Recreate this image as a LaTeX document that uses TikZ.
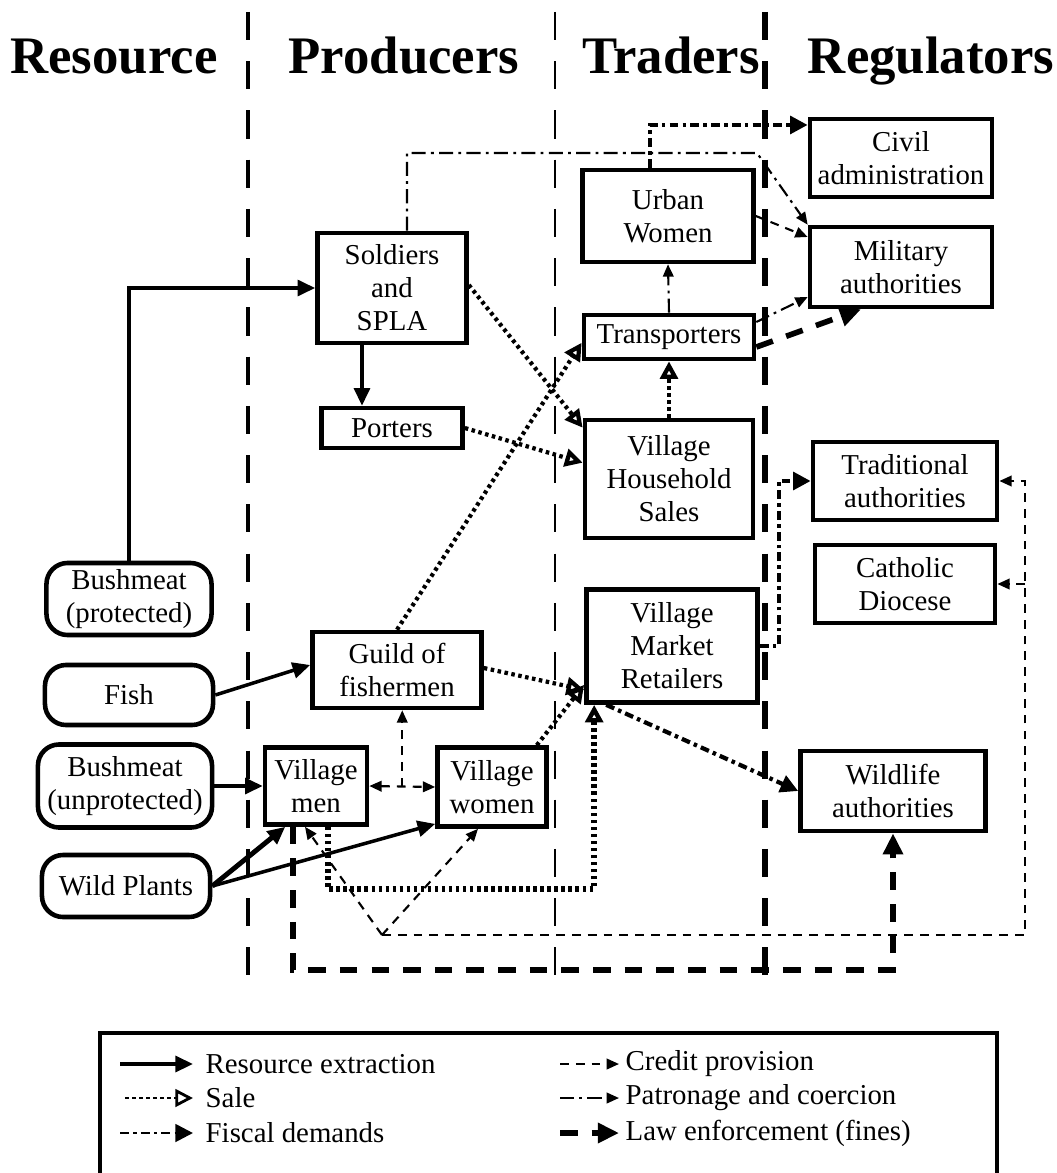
\documentclass[tikz,border=0pt]{standalone}
\usepackage{fontspec}
\setmainfont{Liberation Serif}
\usetikzlibrary{arrows.meta, positioning, calc}
\newcommand\actorfont{\fontsize{8.2}{9.4}\selectfont}

\begin{document}
\begin{tikzpicture}[x=0.01cm, y=-0.01cm,
    actor/.style={draw, fill=white, line width=1.3pt, align=center, inner sep=1pt, font=\actorfont},
    source/.style={actor, rounded corners=6pt},
    head/.style={anchor=base, font=\fontsize{15}{18}\selectfont\bfseries},
    legtext/.style={anchor=west, inner sep=0pt, font=\actorfont},
    divider/.style={line width=1.1pt, dash pattern=on 8pt off 6pt},
    extract/.style={line width=1pt, -{Triangle[length=5pt,width=4.5pt]}},
    sale/.style={line width=1.2pt, dash pattern=on 1pt off 1pt, -{Triangle[open,length=5pt,width=5pt]}},
    fiscal/.style={line width=1.2pt, dash pattern=on 2.5pt off 1.2pt on 1pt off 1.2pt, -{Triangle[length=5pt,width=5pt]}},
    credit/.style={line width=0.6pt, dash pattern=on 2.5pt off 2pt, -{Triangle[length=3.5pt,width=3pt]}},
    patron/.style={line width=0.6pt, dash pattern=on 4pt off 1.5pt on 0.8pt off 1.5pt, -{Triangle[length=3.5pt,width=3pt]}},
    lawenf/.style={line width=1.6pt, dash pattern=on 5pt off 4pt, -{Triangle[length=6pt,width=5.5pt]}}]
  \useasboundingbox (0,0) rectangle (1056,1173);

  % Column headings
  \node[head] (hres) at (114,74) {Resource};
  \node[head] (hprod) at (404,74) {Producers};
  \node[head] (htrad) at (671,74) {Traders};
  \node[head] (hreg) at (931,74) {Regulators};

  % Column dividers
  \draw[divider] (248,12) -- (248,975);
  \draw[divider, line width=0.8pt] (555,12) -- (555,975);
  \draw[divider, line width=1.5pt] (765,12) -- (765,975);

  % Resources
  \node[source, minimum width=1.65cm, minimum height=0.72cm] (bmp) at (129,599) {Bushmeat\\(protected)};
  \node[source, minimum width=1.68cm, minimum height=0.60cm] (fish) at (129,695) {Fish};
  \node[source, minimum width=1.74cm, minimum height=0.83cm] (bmu) at (125,786) {Bushmeat\\(unprotected)};
  \node[source, minimum width=1.68cm, minimum height=0.62cm] (wild) at (126,886) {Wild Plants};

  % Producers
  \node[actor, minimum width=1.49cm, minimum height=1.10cm] (soldiers) at (392,288) {Soldiers\\and\\SPLA};
  \node[actor, minimum width=1.41cm, minimum height=0.40cm] (porters) at (392,428) {Porters};
  \node[actor, minimum width=1.69cm, minimum height=0.76cm] (guild) at (397,670) {Guild of\\fishermen};
  \node[actor, minimum width=1.02cm, minimum height=0.77cm] (vmen) at (316,786) {Village\\men};
  \node[actor, minimum width=1.09cm, minimum height=0.79cm] (vwomen) at (492,787) {Village\\women};

  % Traders
  \node[actor, minimum width=1.71cm, minimum height=0.92cm] (urban) at (668,216) {Urban\\Women};
  \node[actor, minimum width=1.70cm, minimum height=0.44cm] (transp) at (669,337) {Transporters};
  \node[actor, minimum width=1.68cm, minimum height=1.18cm] (vhs) at (669,479) {Village\\Household\\Sales};
  \node[actor, minimum width=1.71cm, minimum height=1.13cm] (vmr) at (672,646) {Village\\Market\\Retailers};

  % Regulators
  \node[actor, minimum width=1.82cm, minimum height=0.78cm] (civil) at (901,158) {Civil\\administration};
  \node[actor, minimum width=1.82cm, minimum height=0.80cm] (military) at (901,267) {Military\\authorities};
  \node[actor, minimum width=1.84cm, minimum height=0.78cm] (trad) at (905,481) {Traditional\\authorities};
  \node[actor, minimum width=1.80cm, minimum height=0.78cm] (cath) at (905,584) {Catholic\\Diocese};
  \node[actor, minimum width=1.85cm, minimum height=0.80cm] (wildlife) at (893,791) {Wildlife\\authorities};

  % Free corners
  \coordinate (pbend) at (757,153);
  \coordinate (cfork) at (382,935);
  \coordinate (cright) at (1025,935);
  \coordinate (cmid) at ($(vmen.east)!0.5!(vwomen.west)$);

  % Resource extraction
  \draw[extract] (bmp.north) |- (soldiers.west);
  \draw[extract] (fish.east) -- ([yshift=0.05cm]guild.west);
  \draw[extract] (bmu.east) -- (vmen.west);
  \draw[extract, line width=1.4pt] (wild.east) -- (vmen.233);
  \draw[extract] (wild.east) -- (vwomen.213);
  \draw[extract] ([xshift=-0.3cm]soldiers.south) -- ([xshift=-0.3cm]porters.north);

  % Sale
  \draw[sale] ([yshift=0.03cm]soldiers.east) -- ([yshift=-0.1cm]vhs.north west);
  \draw[sale] (porters.east) -- ([yshift=-0.45cm]vhs.north west);
  \draw[sale] (guild.north) -- ([yshift=-0.3cm]transp.north west);
  \draw[sale] ([yshift=0.02cm]guild.east) -- ([yshift=0.15cm]vmr.south west);
  \draw[sale] ([xshift=-0.12cm]vwomen.north east) -- ([yshift=0.2cm]vmr.south west);
  \draw[sale] (vhs.north) -- (transp.south);
  \draw[sale, line width=1.6pt] ([xshift=0.12cm]vmen.south) -- ++(0,62) -| ([xshift=0.1cm]vmr.south west);

  % Fiscal demands
  \draw[fiscal] ([xshift=-0.18cm]urban.north) |- ([yshift=0.33cm]civil.west);
  \draw[fiscal] (vmr.east) -- ++(19,0) |- (trad.west);
  \draw[fiscal] ([xshift=0.22cm]vmr.south west) -- (wildlife.west);

  % Patronage and coercion
  \draw[patron] (transp.north) -- (urban.south);
  \draw[patron] ([xshift=0.15cm]soldiers.north) |- (pbend) -- (military.north west);
  \draw[patron] ([yshift=0.15cm]transp.east) -- ([yshift=-0.3cm]military.west);

  % Credit provision
  \draw[credit] (urban.east) -- ([yshift=0.3cm]military.west);
  \draw[credit, {Triangle[length=3.5pt,width=3pt]}-{Triangle[length=3.5pt,width=3pt]}] (vmen.east) -- (vwomen.west);
  \draw[credit] (cmid) -- (cmid |- guild.south);
  \draw[credit] (cfork) -- ([xshift=-0.11cm]vmen.south);
  \draw[credit] (cfork) -- ([xshift=-0.14cm]vwomen.south);
  \draw[credit] (cfork) -- (cright) |- (trad.east);
  \draw[credit] (cath.east -| cright) -- (cath.east);

  % Law enforcement (fines)
  \draw[lawenf] ([yshift=-0.1cm]transp.east) -- ([xshift=-0.4cm]military.south);
  \draw[lawenf] ([xshift=-0.23cm]vmen.south) -- ++(0,143) -| (wildlife.south);

  % Legend
  \draw[line width=1.1pt] (100,1190) |- (997,1033) -- (997,1190);
  \node[legtext] (lgext) at (205,1064) {Resource extraction};
  \node[legtext] (lgsale) at (205,1098) {Sale};
  \node[legtext] (lgfisc) at (205,1133) {Fiscal demands};
  \node[legtext] (lgcred) at (625,1064) {Credit provision};
  \node[legtext] (lgpatr) at (625,1098) {Patronage and coercion};
  \node[legtext] (lglaw) at (625,1133) {Law enforcement (fines)};
  \coordinate (sext) at (120,1064);
  \coordinate (ssale) at (125,1098);
  \coordinate (sfisc) at (120,1133);
  \coordinate (scred) at (560,1064);
  \coordinate (spatr) at (560,1098);
  \coordinate (slaw) at (560,1133);
  \draw[extract] (sext) -- ([xshift=-0.12cm]lgext.west);
  \draw[sale, line width=0.8pt] (ssale) -- ([xshift=-0.12cm]lgsale.west);
  \draw[fiscal, line width=0.8pt] (sfisc) -- ([xshift=-0.12cm]lgfisc.west);
  \draw[credit] (scred) -- ([xshift=-0.06cm]lgcred.west);
  \draw[patron] (spatr) -- ([xshift=-0.06cm]lgpatr.west);
  \draw[lawenf] (slaw) -- ([xshift=-0.06cm]lglaw.west);
\end{tikzpicture}
\end{document}
